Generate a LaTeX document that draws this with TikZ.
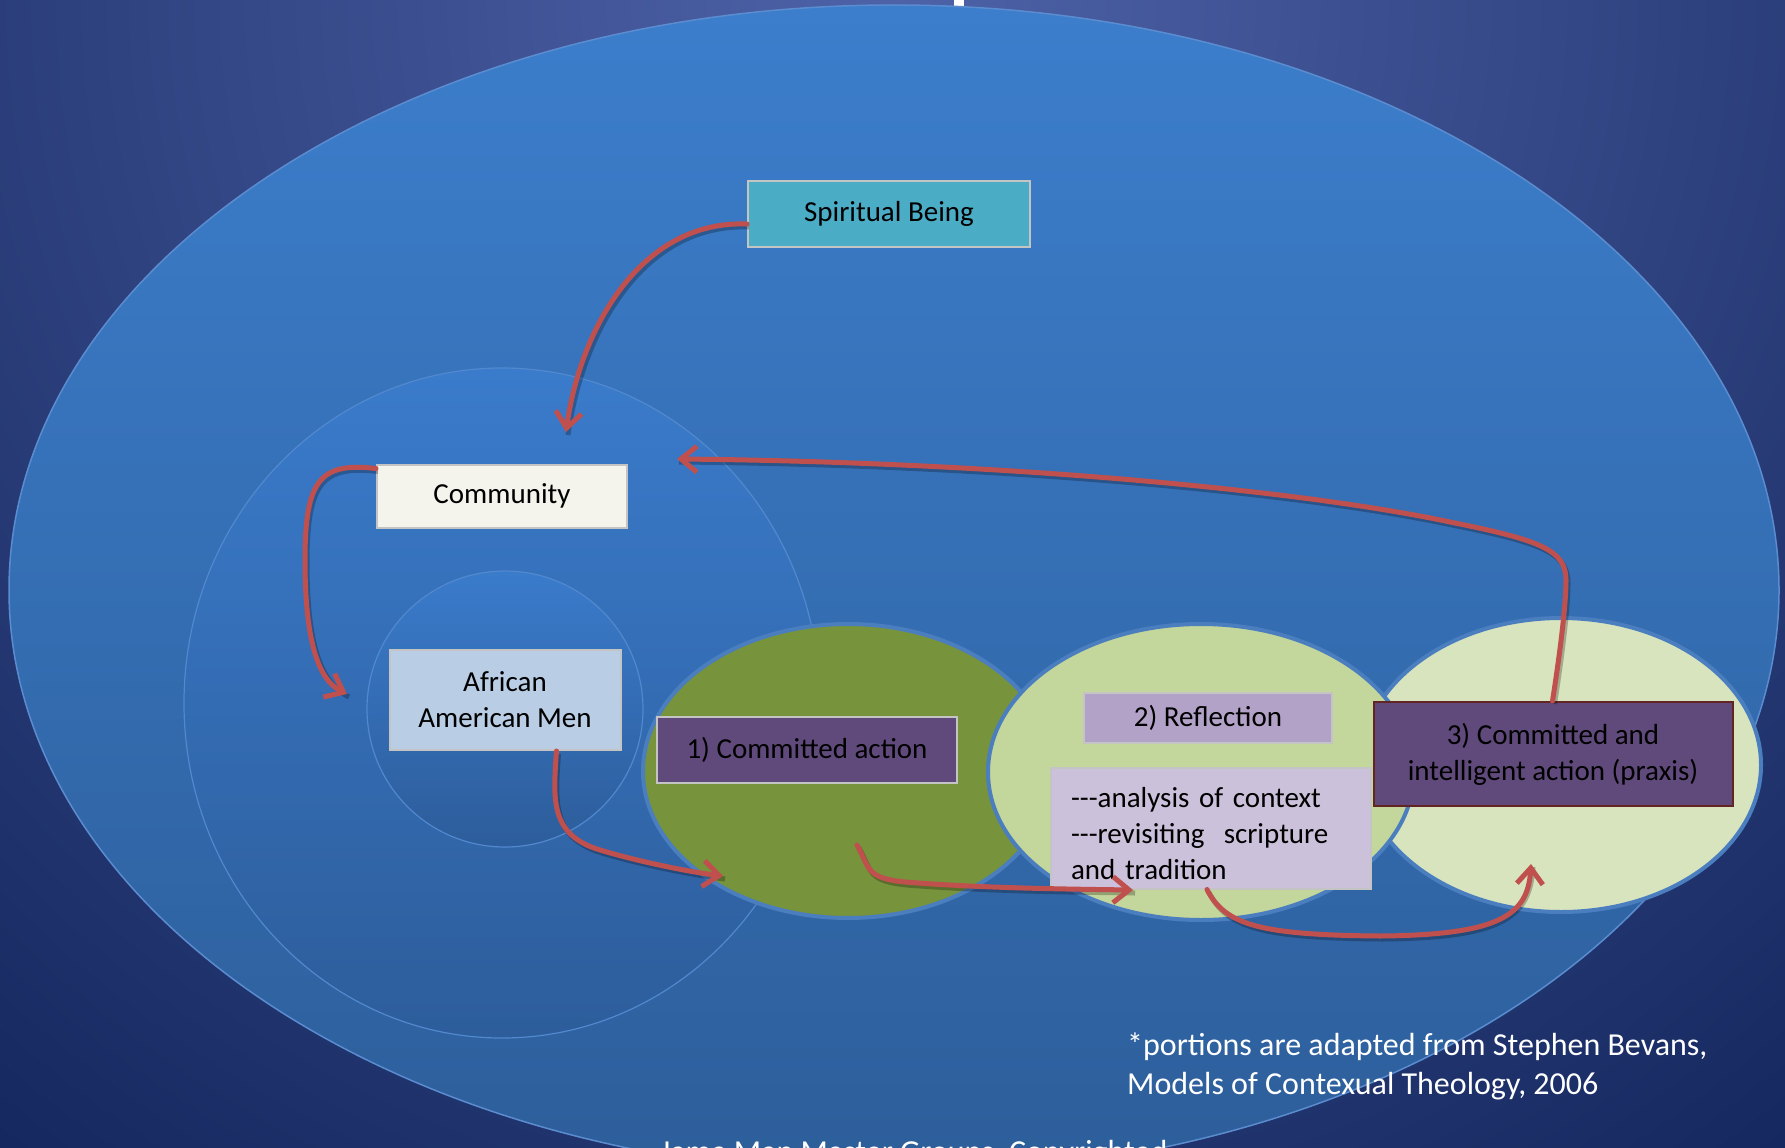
\documentclass[tikz,border=0pt]{standalone}
\usepackage{fontspec}
\setmainfont{Carlito}
\usetikzlibrary{arrows.meta}
\definecolor{bgIn}{HTML}{4E62A8}
\definecolor{bgOut}{HTML}{15285F}
\definecolor{bigTop}{HTML}{3C7ECC}
\definecolor{bigBot}{HTML}{2D5E9A}
\definecolor{cirTop}{HTML}{3A7BCB}
\definecolor{cirBot}{HTML}{2D5D9B}
\definecolor{cirLine}{HTML}{5A8CCF}
\definecolor{gOne}{HTML}{77933C}
\definecolor{gTwo}{HTML}{C3D69B}
\definecolor{gThree}{HTML}{D7E4BD}
\definecolor{ellLine}{HTML}{4A7EBF}
\definecolor{sbFill}{HTML}{4BACC6}
\definecolor{comFill}{HTML}{F4F4EC}
\definecolor{aamFill}{HTML}{B9CDE5}
\definecolor{purp}{HTML}{604A7B}
\definecolor{reflFill}{HTML}{B3A2C7}
\definecolor{analFill}{HTML}{CCC1DA}
\definecolor{praxLine}{HTML}{632523}
\definecolor{boxLine}{HTML}{C4C4C4}
\definecolor{arrRed}{HTML}{C0504D}
\pgfdeclareradialshading{bgshade}{\pgfpoint{0bp}{0bp}}{color(0bp)=(bgIn); color(25bp)=(bgOut); color(50bp)=(bgOut)}
\tikzset{
  txtbox/.style={draw=boxLine, line width=2pt, minimum width=#1, inner sep=0pt, align=center,
    font=\fontsize{29}{36}\selectfont, text=black},
  flowarrow/.style={draw=arrRed, line width=5pt, line cap=round,
    -{Straight Barb[length=16pt, width=26pt, line width=5pt]},
    preaction={draw=black, draw opacity=0.25, line width=5pt, -, transform canvas={shift={(2pt,-3pt)}}}},
  whitetxt/.style={text=white, font=\fontsize{32}{39}\selectfont, inner sep=0pt}
}
\begin{document}
\begin{tikzpicture}[x=1pt, y=-1pt]
\useasboundingbox (0,0) rectangle (1785,1148);
\begin{scope}
\clip (0,0) rectangle (1785,1148);
\fill[bgOut] (0,0) rectangle (1785,1148);
\shade[shading=bgshade] (893,0) circle (1450);
% top white fragment
\fill[white] (954,0) rectangle (964,6);
% big ellipse
\shade[top color=bigTop, bottom color=bigBot, draw=cirLine, line width=1.5pt]
  (894,590) ellipse [x radius=885, y radius=585];
% community circle
\shade[top color=cirTop, bottom color=cirBot, draw=cirLine!70!bigTop, line width=1.2pt]
  (502,703) ellipse [x radius=318, y radius=335];
% inner circle
\shade[top color=cirTop, bottom color=cirBot, draw=cirLine!70!bigTop, line width=1.2pt]
  (505,709) ellipse [x radius=138, y radius=138];
% green ellipses
\filldraw[fill=gOne, draw=ellLine, line width=4pt] (848,771) ellipse [x radius=205, y radius=147];
\filldraw[fill=gThree, draw=ellLine, line width=4pt] (1561,765) ellipse [x radius=200, y radius=147];
\filldraw[fill=gTwo, draw=ellLine, line width=4pt] (1201,772) ellipse [x radius=213, y radius=148];
% boxes
\node[txtbox=282pt, minimum height=66pt, fill=sbFill] (sb) at (889,214) {Spiritual Being};
\node[txtbox=250pt, minimum height=63pt, fill=comFill] (com) at (502,496) {Community};
\node[txtbox=231pt, minimum height=100pt, fill=aamFill] (aam) at (505,700) {African\\American Men};
\node[txtbox=300pt, minimum height=66pt, fill=purp] (ca) at (807,750) {1) Committed action};
\node[txtbox=248pt, minimum height=50pt, fill=reflFill] (refl) at (1208,718) {2) Reflection};
\node[txtbox=318pt, minimum height=121pt, fill=analFill, align=left, text width=280pt, inner xsep=20pt] (anal) at (1211,828)
  {\parbox{280pt}{\vspace*{11pt}{-}{-}{-}analysis of context\\{-}{-}{-}revisiting\ \ scripture\\and tradition}};
\node[txtbox=359pt, minimum height=104pt, fill=purp, draw=praxLine] (prax) at (1553,754)
  {3) Committed and\\intelligent action (praxis)};
% arrows
\coordinate (t1) at (566,432);
\coordinate (t2) at (347,694);
\coordinate (t3) at (723,876);
\coordinate (s4) at (857,845);
\coordinate (t4) at (1133,890);
\coordinate (t5) at (1531,864);
\coordinate (t6) at (677,459);
\draw[flowarrow] ([yshift=-10pt]sb.west) .. controls (640,220) and (580,330) .. (t1);
\draw[flowarrow] ([yshift=60pt]com.south west) .. controls (320,462) and (305,480) .. (305,560)
  .. controls (305,640) and (318,680) .. (t2);
\draw[flowarrow] ([xshift=168pt]aam.south west) .. controls (553,800) and (550,835) .. (600,850)
  .. controls (640,862) and (690,872) .. (t3);
\draw[flowarrow] (s4) .. controls (870,868) and (865,878) .. (905,882)
  .. controls (980,888) and (1060,889) .. (t4);
\draw[flowarrow] ([xshift=157pt]anal.south west) .. controls (1225,925) and (1260,935) .. (1380,936)
  .. controls (1500,935) and (1528,915) .. (t5);
\draw[flowarrow] ([xshift=180pt]prax.north west) .. controls (1562,640) and (1566,600) .. (1566,580)
  .. controls (1566,550) and (1540,540) .. (1450,522)
  .. controls (1300,490) and (1000,462) .. (t6);
% footer texts
\node[whitetxt, anchor=west, align=left] (foot) at (1127,1066)
  {*portions are adapted from Stephen Bevans,\\Models of Contexual Theology, 2006};
\node[whitetxt, anchor=base west] (copy) at (660,1162) {Jama Man Master Groups, Copyrighted};
\end{scope}
\end{tikzpicture}
\end{document}
